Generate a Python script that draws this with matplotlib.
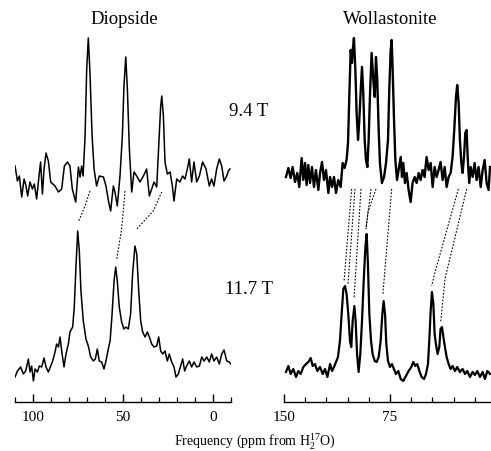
import matplotlib.pyplot as plt
from matplotlib.ticker import MultipleLocator

plt.rcParams['font.family'] = 'Liberation Serif'
plt.rcParams['mathtext.fontset'] = 'custom'
plt.rcParams['mathtext.rm'] = 'Liberation Serif'

# Diopside, 9.4 T (ppm, intensity above baseline)
dio94_ppm = [109.8, 108.5, 107.4, 106.1, 104.8, 103.7, 102.8, 101.5, 100.2, 99.1,
             97.8, 96.5, 95.6, 94.6, 93.7, 92.6, 91.3, 90.0, 87.6, 85.7,
             83.9, 82.4, 80.7, 79.3, 78.0, 76.1, 74.6, 73.7, 72.8, 72.0,
             70.9, 70.0, 69.1, 68.2, 67.0, 65.9, 64.5, 63.0, 60.7, 59.3,
             57.8, 56.7, 55.2, 54.3, 53.0, 51.5, 50.2, 49.3, 48.3, 47.4,
             46.3, 45.0, 43.7, 42.2, 40.4, 38.5, 36.7, 35.2, 33.9, 32.6,
             31.1, 29.8, 28.9, 28.3, 27.4, 26.5, 25.2, 23.7, 22.4, 21.5,
             20.0, 18.2, 16.7, 15.4, 14.1, 13.0, 11.7, 10.4, 8.9, 7.4,
             5.6, 3.7, 1.9, 0.6, -0.7, -2.2, -3.7, -5.0, -6.3, -7.8,
             -8.7, -9.6]
dio94_int = [13, -2, 3, -18, 0, -7, -17, -3, -10, -5,
             -20, 3, 17, -15, 10, 26, 18, -3, -7, -13,
             -10, 13, 17, 13, -10, -23, 12, 2, 13, 3,
             43, 110, 141, 107, 43, 10, -7, 3, 2, -7,
             -23, -32, -7, -13, -27, 3, 43, 93, 122, 90,
             30, -13, 7, 3, -3, 3, 10, -17, -10, -3,
             -8, 40, 73, 83, 63, 17, 5, 7, -7, -22,
             0, -3, 3, 0, 10, 20, -3, 17, -3, 3,
             17, 10, -7, 0, -7, 10, 20, 13, -2, 3,
             8, 10]

# Diopside, 11.7 T
dio117_ppm = [109.8, 108.5, 106.7, 105.2, 103.9, 102.4, 101.5, 100.6, 99.6, 98.7,
              97.4, 96.3, 95.0, 93.7, 92.6, 91.3, 90.0, 88.9, 87.6, 86.7,
              85.7, 84.8, 83.9, 82.6, 81.5, 80.2, 79.3, 77.8, 76.9, 75.9,
              75.0, 74.1, 73.2, 71.9, 70.4, 69.1, 67.8, 66.3, 65.2, 64.1,
              63.0, 61.7, 60.4, 59.3, 58.0, 57.0, 55.9, 54.8, 53.9, 53.0,
              51.9, 50.6, 49.3, 48.2, 46.9, 45.6, 44.5, 43.2, 42.2, 41.1,
              40.0, 38.9, 37.6, 36.3, 35.2, 33.9, 32.6, 31.1, 30.0, 28.9,
              27.8, 26.5, 25.2, 24.1, 22.8, 21.5, 20.4, 19.1, 17.8, 16.7,
              15.6, 14.5, 13.0, 11.7, 10.4, 8.9, 7.4, 6.1, 4.8, 3.3,
              1.9, 0.6, -0.7, -2.2, -3.7, -5.0, -6.3, -7.8, -9.3, -10.0]
dio117_int = [-6, 0, 4, -3, 0, 12, -1, 5, -10, 2,
              -1, 5, 4, 13, 4, -1, 5, 10, 19, 27,
              24, 34, 20, 4, 17, 27, 39, 44, 64, 107,
              140, 120, 80, 50, 32, 25, 14, 10, 12, 22,
              10, 9, 2, 10, 22, 30, 57, 90, 104, 90,
              64, 49, 42, 44, 42, 57, 97, 125, 117, 80,
              50, 39, 34, 39, 34, 27, 24, 25, 34, 20,
              17, 20, 10, 17, 9, 4, -6, -3, 5, 12,
              0, 5, 10, 4, 9, 4, 5, 14, 10, 14,
              9, 17, 10, 14, 7, 17, 21, 10, 9, 7]

# Wollastonite, 9.4 T
wol94_ppm = [148.6, 146.9, 145.3, 143.9, 142.2, 140.6, 139.2, 137.5, 136.3, 135.1,
             134.0, 132.8, 131.6, 130.2, 128.8, 127.4, 125.7, 124.5, 123.1, 121.7,
             120.3, 118.6, 117.4, 116.0, 114.6, 113.2, 111.6, 109.9, 108.5, 107.1,
             105.7, 104.7, 103.8, 102.8, 101.9, 101.2, 100.5, 99.5, 98.6, 97.6,
             96.7, 95.7, 94.8, 93.9, 92.9, 92.0, 91.0, 90.1, 89.2, 88.0,
             86.8, 85.8, 84.9, 84.0, 83.0, 82.1, 80.7, 79.2, 77.8, 76.4,
             75.5, 74.5, 73.8, 73.1, 72.2, 71.2, 70.0, 68.9, 67.4, 66.5,
             65.6, 64.4, 63.2, 61.8, 60.4, 59.0, 57.5, 56.1, 54.7, 53.3,
             51.9, 50.5, 49.1, 47.6, 46.2, 44.8, 43.4, 42.0, 40.6, 39.2,
             37.7, 36.3, 34.9, 33.5, 32.1, 30.7, 29.5, 28.3, 27.4, 26.4,
             25.5, 24.5, 23.6, 22.6, 21.7, 20.8, 19.8, 18.9, 17.9, 16.5,
             15.1, 13.7, 12.3, 10.8, 9.4, 8.0, 6.6, 5.2, 4.2]
wol94_int = [1, 10, 0, 11, -4, 5, -9, 20, -2, 15,
             -7, 13, -5, 11, -9, 8, -12, 5, 16, -2,
             8, -15, 1, -9, 1, -15, -2, -9, 15, 10,
             18, 35, 81, 128, 115, 130, 140, 108, 65, 38,
             58, 88, 111, 85, 38, 18, 11, 38, 81, 125,
             98, 81, 121, 98, 48, 15, -5, 1, 15, 38,
             88, 128, 138, 108, 61, 18, -2, 8, 21, 1,
             15, -5, 5, -12, -24, -5, 1, -5, 5, -2,
             8, 1, 21, 8, 15, -9, 11, 1, 8, 16,
             -2, 11, -9, 1, 5, 21, 48, 81, 93, 75,
             38, 15, 5, 21, 45, 48, 15, -5, 11, 1,
             15, -2, 11, -9, 8, 18, -5, -12, 11]

# Wollastonite, 11.7 T
wol117_ppm = [148.6, 146.9, 145.3, 143.4, 141.5, 139.9, 138.2, 136.3, 134.4, 132.8,
              131.1, 129.7, 128.1, 126.4, 124.5, 122.6, 121.0, 119.3, 117.4, 116.0,
              114.6, 113.2, 111.8, 110.4, 109.2, 108.0, 106.8, 105.7, 104.5, 103.3,
              102.4, 101.4, 100.2, 99.3, 98.3, 97.2, 96.0, 94.8, 93.6, 92.4,
              91.5, 90.6, 89.6, 88.4, 87.3, 85.8, 84.4, 83.0, 81.6, 80.4,
              79.5, 78.5, 77.6, 76.4, 75.0, 73.6, 72.2, 70.8, 69.1, 67.4,
              65.6, 63.7, 61.8, 59.9, 58.5, 57.1, 55.7, 54.2, 52.6, 50.9,
              49.5, 48.1, 47.2, 46.2, 45.3, 44.3, 43.4, 42.5, 41.3, 40.1,
              39.2, 38.2, 37.2, 36.1, 34.9, 33.5, 32.1, 30.7, 29.0, 27.4,
              25.5, 23.6, 21.9, 20.3, 18.4, 16.5, 14.9, 13.2, 11.3, 9.4,
              7.8, 6.1, 4.2]
wol117_int = [-1, 5, -3, 2, -6, 0, -3, 4, 7, 9,
              13, 5, 7, 0, 4, -3, 2, -6, 7, 0,
              4, 9, 14, 30, 57, 82, 85, 77, 57, 30,
              24, 50, 65, 50, 17, -1, 17, 50, 90, 124,
              137, 107, 57, 30, 17, 10, 9, 14, 30, 57,
              70, 57, 27, 10, 4, 7, 2, -3, 0, -8,
              -10, -5, 0, 4, 9, 5, 7, 0, -6, -8,
              -3, 7, 30, 60, 79, 67, 37, 27, 17, 24,
              42, 44, 34, 24, 14, 7, 2, 5, 0, 4,
              -1, 2, -3, 0, -6, -1, -4, 0, -6, -1,
              -8, 0, -3]

# dotted correlation lines: (ppm list, height list) from upper to lower trace
dio_links = [([68.2, 70.9, 74.7], [211, 196, 180]),
             ([48.7, 50.6, 53.3], [211, 173, 143]),
             ([28.3, 33.0, 42.2], [210, 191, 173])]
wol_links = [([102.1, 107.5], [213, 121]),
             ([99.8, 104.7], [213, 118]),
             ([95.5, 100.5], [213, 103]),
             ([88.4, 92.0], [213, 173]),
             ([84.9, 90.6, 92.0], [213, 190, 173]),
             ([73.8, 80.0], [213, 108]),
             ([26.6, 43.1, 45.5], [213, 130, 116]),
             ([20.7, 36.1, 39.1], [213, 123, 80])]

W, H = 491, 452
fig = plt.figure(figsize=(W / 100, H / 100), dpi=100)
ax1 = fig.add_axes([14.7 / W, 1 - 403 / H, 216 / W, 403 / H])
ax2 = fig.add_axes([284 / W, 1 - 403 / H, 207 / W, 403 / H])

for ax in (ax1, ax2):
    for s in ('left', 'right', 'top'):
        ax.spines[s].set_visible(False)
    ax.spines['bottom'].set_linewidth(1.0)
    ax.set_yticks([])
    ax.set_ylim(0, 403)
    ax.tick_params(axis='x', which='both', direction='in', labelsize=11, pad=6)
    ax.tick_params(axis='x', which='major', length=6, width=1.0)
    ax.tick_params(axis='x', which='minor', length=3.5, width=0.9)
    ax.patch.set_visible(False)

ax1.set_xlim(110, -10)
ax1.xaxis.set_major_locator(MultipleLocator(50))
ax1.xaxis.set_minor_locator(MultipleLocator(10))
ax2.set_xlim(150, 150 - 207 / 1.413)
ax2.xaxis.set_major_locator(MultipleLocator(75))
ax2.xaxis.set_minor_locator(MultipleLocator(15))

top_off, bot_off = 223, 31
ax1.plot(dio94_ppm, [v + top_off for v in dio94_int], color='black', lw=1.1)
ax1.plot(dio117_ppm, [v + bot_off for v in dio117_int], color='black', lw=1.1)
ax2.plot(wol94_ppm, [v + top_off + 1 for v in wol94_int], color='black', lw=1.7)
ax2.plot(wol117_ppm, [v + bot_off for v in wol117_int], color='black', lw=1.6)

for px, py in dio_links:
    ax1.plot(px, py, color='black', lw=0.8, linestyle=(0, (1.5, 1.5)))
for px, py in wol_links:
    ax2.plot(px, py, color='black', lw=0.8, linestyle=(0, (1.5, 1.5)))

fig.text(124 / W, 1 - 20 / H, 'Diopside', ha='center', va='center', fontsize=13.5)
fig.text(390 / W, 1 - 20 / H, 'Wollastonite', ha='center', va='center', fontsize=13.5)
fig.text(249 / W, 1 - 111 / H, '9.4 T', ha='center', va='center', fontsize=13.5)
fig.text(249 / W, 1 - 290 / H, '11.7 T', ha='center', va='center', fontsize=13.5)
fig.text(255 / W, 1 - 442 / H, r'Frequency (ppm from H$_2^{17}$O)',
         ha='center', va='center', fontsize=10)

fig.savefig('out.png', dpi=100)
